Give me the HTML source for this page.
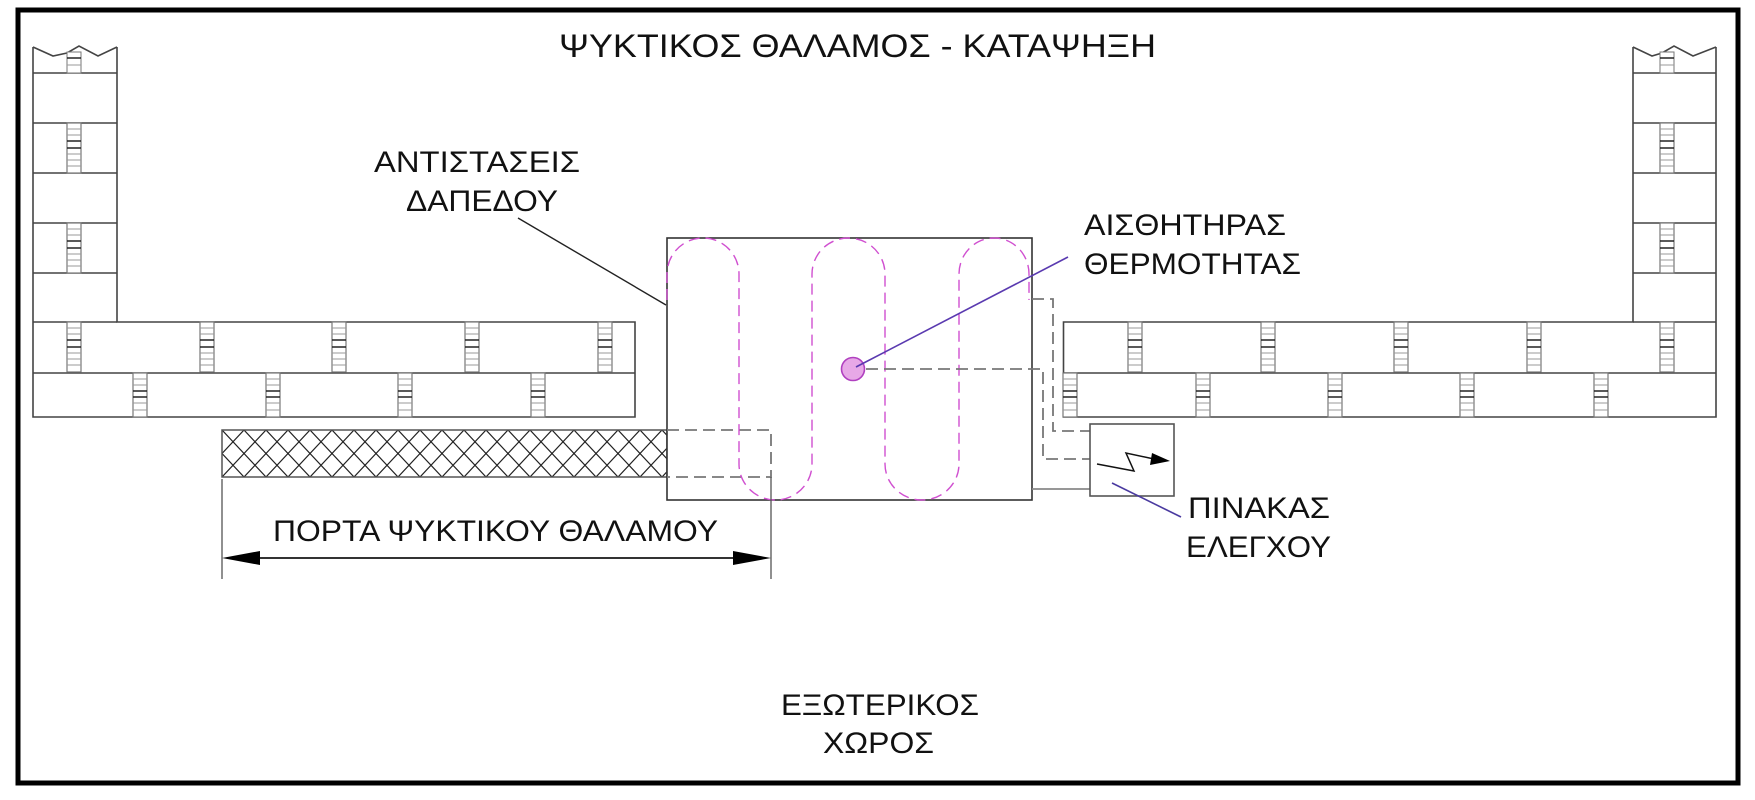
<!DOCTYPE html>
<html><head><meta charset="utf-8"><style>
html,body{margin:0;padding:0;background:#fff;}
svg{display:block;}
text{font-family:"Liberation Sans","DejaVu Sans",sans-serif;fill:#111;}
</style></head><body>
<svg width="1755" height="800" viewBox="0 0 1755 800" xmlns="http://www.w3.org/2000/svg">
<defs>
<g id="j">
<rect x="-7" y="0" width="14" height="50" fill="#fff" stroke="#777" stroke-width="1.2"/>
<g stroke="#999" stroke-width="1">
<line x1="-7" y1="6" x2="7" y2="6"/><line x1="-7" y1="12" x2="7" y2="12"/><line x1="-7" y1="31" x2="7" y2="31"/><line x1="-7" y1="37" x2="7" y2="37"/><line x1="-7" y1="43" x2="7" y2="43"/>
</g>
<g stroke="#222" stroke-width="1.5"><line x1="-7" y1="18" x2="7" y2="18"/><line x1="-7" y1="25" x2="7" y2="25"/></g>
</g>
<g id="js">
<rect x="-7" y="0" width="14" height="44" fill="#fff" stroke="#777" stroke-width="1.2"/>
<g stroke="#999" stroke-width="1">
<line x1="-7" y1="6" x2="7" y2="6"/><line x1="-7" y1="12" x2="7" y2="12"/><line x1="-7" y1="30" x2="7" y2="30"/><line x1="-7" y1="37" x2="7" y2="37"/>
</g>
<g stroke="#222" stroke-width="1.5"><line x1="-7" y1="18" x2="7" y2="18"/><line x1="-7" y1="24" x2="7" y2="24"/></g>
</g>
<pattern id="hx" patternUnits="userSpaceOnUse" x="222" y="430" width="22" height="23.5">
<path d="M0,0 L22,23.5 M22,0 L0,23.5" stroke="#222" stroke-width="1.2" fill="none"/>
</pattern>
</defs>

<!-- border -->
<rect x="18" y="10" width="1720" height="773" fill="none" stroke="#000" stroke-width="5"/>

<text x="559" y="57" font-size="32" textLength="597" lengthAdjust="spacingAndGlyphs">ΨΥΚΤΙΚΟΣ ΘΑΛΑΜΟΣ - ΚΑΤΑΨΗΞΗ</text>

<!-- left wall -->
<g fill="none" stroke="#444" stroke-width="1.6">
<path d="M33,47 V417 H635 V322 H117 V47"/>
<path d="M33,47 L53,56 L67,53 L79,46 L98,56 L117,47"/>
<path d="M33,73 H117 M33,123 H117 M33,173 H117 M33,223 H117 M33,273 H117 M33,322 H117 M33,373 H635"/>
</g>
<use href="#j" x="74" y="123"/><use href="#j" x="74" y="223"/>
<g><rect x="67" y="52" width="14" height="21" fill="#fff" stroke="#777"/><line x1="67" y1="58" x2="81" y2="58" stroke="#222" stroke-width="1.5"/><line x1="67" y1="65" x2="81" y2="65" stroke="#999"/></g>
<use href="#j" x="74" y="322"/><use href="#j" x="207" y="322"/><use href="#j" x="339" y="322"/><use href="#j" x="472" y="322"/><use href="#j" x="605" y="322"/>
<use href="#js" x="140" y="373"/><use href="#js" x="273" y="373"/><use href="#js" x="405" y="373"/><use href="#js" x="538" y="373"/>

<!-- right wall -->
<g fill="none" stroke="#444" stroke-width="1.6">
<path d="M1716,47 V417 H1063.5 V322 H1633 V47"/>
<path d="M1633,47 L1652,56 L1662,53 L1674,46 L1693,56 L1716,47"/>
<path d="M1633,73 H1716 M1633,123 H1716 M1633,173 H1716 M1633,223 H1716 M1633,273 H1716 M1633,322 H1716 M1063.5,373 H1716"/>
</g>
<use href="#j" x="1667" y="123"/><use href="#j" x="1667" y="223"/>
<g><rect x="1660" y="52" width="14" height="21" fill="#fff" stroke="#777"/><line x1="1660" y1="58" x2="1674" y2="58" stroke="#222" stroke-width="1.5"/><line x1="1660" y1="65" x2="1674" y2="65" stroke="#999"/></g>
<use href="#j" x="1135" y="322"/><use href="#j" x="1268" y="322"/><use href="#j" x="1401" y="322"/><use href="#j" x="1534" y="322"/><use href="#j" x="1667" y="322"/>
<use href="#js" x="1070" y="373"/><use href="#js" x="1203" y="373"/><use href="#js" x="1335" y="373"/><use href="#js" x="1467" y="373"/><use href="#js" x="1601" y="373"/>

<!-- door hatch -->
<rect x="222" y="430" width="445" height="47" fill="url(#hx)" stroke="#555" stroke-width="1.5"/>

<!-- central box -->
<rect x="667" y="238" width="365" height="262" fill="#fff" stroke="#333" stroke-width="1.6"/>
<path d="M667,430 H771 V477 H667" fill="none" stroke="#777" stroke-width="1.8" stroke-dasharray="12,6"/>
<path d="M667,300 V274 A36,36 0 0 1 739,274 V464 A36.5,36 0 0 0 812,464 V274 A36.5,36 0 0 1 885,274 V464 A37,36 0 0 0 959,464 V274 A35,36 0 0 1 1029,274 V300" fill="none" stroke="#d050d0" stroke-width="1.4" stroke-dasharray="11,6"/>

<!-- dimension -->
<g stroke="#555" stroke-width="1.3">
<line x1="222" y1="479" x2="222" y2="579"/><line x1="771" y1="477" x2="771" y2="579"/>
<line x1="235" y1="558" x2="760" y2="558" stroke="#333" stroke-width="2"/>
</g>
<polygon points="222,558 260,551 260,565" fill="#000"/>
<polygon points="771,558 733,551 733,565" fill="#000"/>
<text x="273" y="541" font-size="30" textLength="445" lengthAdjust="spacingAndGlyphs">ΠΟΡΤΑ ΨΥΚΤΙΚΟΥ ΘΑΛΑΜΟΥ</text>

<!-- leader resistances -->
<line x1="518" y1="218" x2="666" y2="305" stroke="#222" stroke-width="1.4"/>
<text x="374" y="172" font-size="30" textLength="206" lengthAdjust="spacingAndGlyphs">ΑΝΤΙΣΤΑΣΕΙΣ</text>
<text x="406" y="211" font-size="30" textLength="152" lengthAdjust="spacingAndGlyphs">ΔΑΠΕΔΟΥ</text>

<!-- sensor -->
<circle cx="853" cy="369" r="11.5" fill="#e7a8e7" stroke="#b040c0" stroke-width="1.6"/>
<line x1="856" y1="367" x2="1068" y2="257" stroke="#5a3ab0" stroke-width="1.6"/>
<text x="1084" y="235" font-size="30" textLength="202" lengthAdjust="spacingAndGlyphs">ΑΙΣΘΗΤΗΡΑΣ</text>
<text x="1084" y="274" font-size="30" textLength="217" lengthAdjust="spacingAndGlyphs">ΘΕΡΜΟΤΗΤΑΣ</text>

<!-- wiring -->
<g fill="none" stroke="#777" stroke-width="1.8" stroke-dasharray="12,6">
<path d="M866,369 H1043 V459 H1090"/>
<path d="M1032,299 H1053 V431 H1090"/>
</g>
<line x1="1032" y1="489" x2="1090" y2="489" stroke="#888" stroke-width="1.8"/>

<!-- control panel -->
<rect x="1090" y="424" width="84" height="72" fill="#fff" stroke="#555" stroke-width="1.6"/>
<polyline points="1097,464 1134,471 1126,453 1154,459" fill="none" stroke="#111" stroke-width="1.5"/>
<polygon points="1170,461 1152,453 1150,465" fill="#000"/>
<line x1="1112" y1="483" x2="1181" y2="517" stroke="#4a3aa0" stroke-width="1.6"/>
<text x="1188" y="518" font-size="30" textLength="142" lengthAdjust="spacingAndGlyphs">ΠΙΝΑΚΑΣ</text>
<text x="1186" y="557" font-size="30" textLength="145" lengthAdjust="spacingAndGlyphs">ΕΛΕΓΧΟΥ</text>

<text x="781" y="715" font-size="30" textLength="198" lengthAdjust="spacingAndGlyphs">ΕΞΩΤΕΡΙΚΟΣ</text>
<text x="823" y="753" font-size="30" textLength="111" lengthAdjust="spacingAndGlyphs">ΧΩΡΟΣ</text>
</svg>
</body></html>
